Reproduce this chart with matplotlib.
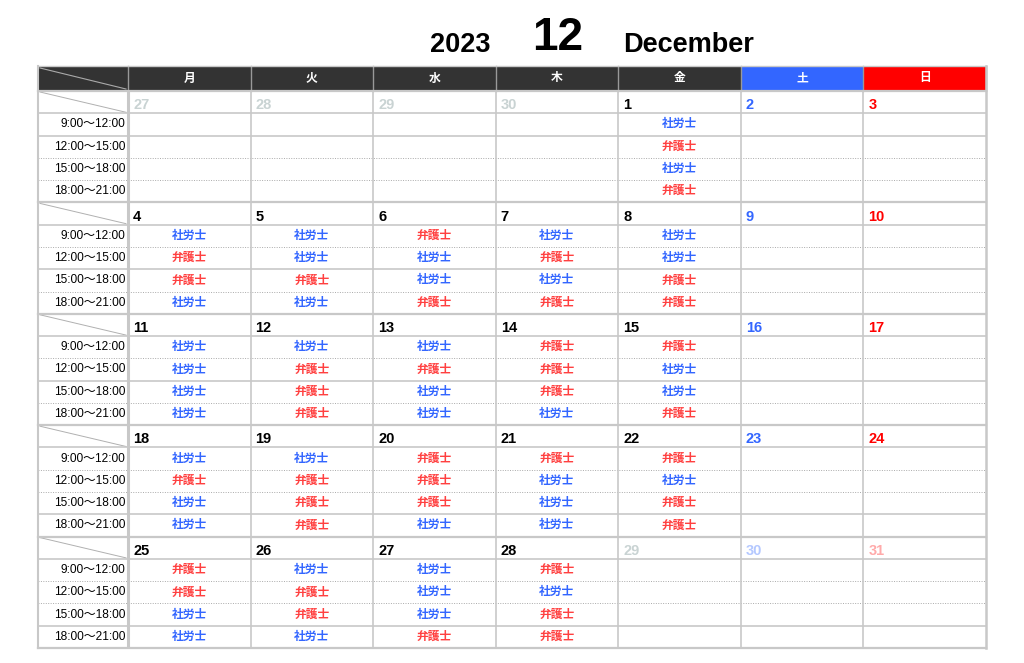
import matplotlib.pyplot as plt
import numpy as np

plt.rcParams["font.family"] = ["Liberation Sans", "Noto Sans CJK JP", "DejaVu Sans"]

year = "2023"
month_num = "12"
month_name = "December"
weekdays = ["月", "火", "水", "木", "金", "土", "日"]
time_slots = ["9:00〜12:00", "12:00〜15:00", "15:00〜18:00", "18:00〜21:00"]

weeks = [
    [27, 28, 29, 30, 1, 2, 3],
    [4, 5, 6, 7, 8, 9, 10],
    [11, 12, 13, 14, 15, 16, 17],
    [18, 19, 20, 21, 22, 23, 24],
    [25, 26, 27, 28, 29, 30, 31],
]
# True where the date belongs to December
in_month = [
    [False, False, False, False, True, True, True],
    [True] * 7,
    [True] * 7,
    [True] * 7,
    [True, True, True, True, False, False, False],
]
# S = 社労士, B = 弁護士 for each of the four time slots
schedule = {
    1: "SBSB",
    4: "SBBS", 5: "SSBS", 6: "BSSB", 7: "SBSB", 8: "SSBB",
    11: "SSSS", 12: "SBBB", 13: "SBSS", 14: "BBBS", 15: "BSSB",
    18: "SBSS", 19: "SBBB", 20: "BBBS", 21: "BSSS", 22: "BSBB",
    25: "BBSS", 26: "SBBS", 27: "SSSB", 28: "BSBB",
}
role_name = {"S": "社労士", "B": "弁護士"}
role_color = {"S": "#3366ff", "B": "#ff4040"}

# line style under slot rows 1..3 of each week block (as rendered)
inner_styles = [
    ["-", ":", ":"],
    [":", "-", ":"],
    [":", "-", ":"],
    [":", ":", "-"],
    [":", ":", "-"],
]

# layout in pixels
W, H = 1024, 663
left, label_right, right = 38, 128, 986
head_top, head_bot, bottom = 66, 91, 648
col_x = np.linspace(label_right, right, 8)
n_rows = len(weeks) * 5
row_y = np.linspace(head_bot, bottom, n_rows + 1)

head_colors = ["#333333"] * 5 + ["#3366ff", "#ff0000"]
date_colors = ["#000000"] * 5 + ["#3366ff", "#ff0000"]
faded_colors = ["#c9d3d3"] * 5 + ["#b4c8ff", "#ffaaaa"]
grid_c = "#c8c8c8"

fig = plt.figure(figsize=(W / 100, H / 100), dpi=100)
ax = fig.add_axes([0, 0, 1, 1])
ax.set_xlim(0, W)
ax.set_ylim(H, 0)
ax.axis("off")

# title
ax.text(460, 52, year, ha="center", va="baseline", fontsize=19.5, fontweight="bold")
ax.text(558, 50, month_num, ha="center", va="baseline", fontsize=33, fontweight="bold")
ax.text(623, 52, month_name, ha="left", va="baseline", fontsize=19.5, fontweight="bold")

# header row
ax.add_patch(plt.Rectangle((left, head_top), label_right - left, head_bot - head_top,
                           facecolor="#333333", edgecolor="none"))
ax.plot([left + 2, label_right - 2], [head_top + 2, head_bot - 2], color="#aaaaaa", lw=0.8)
for i, (name, fc) in enumerate(zip(weekdays, head_colors)):
    x0, x1 = col_x[i], col_x[i + 1]
    ax.add_patch(plt.Rectangle((x0, head_top), x1 - x0, head_bot - head_top,
                               facecolor=fc, edgecolor="none"))
    ax.text((x0 + x1) / 2, (head_top + head_bot) / 2, name, ha="center", va="center",
            color="white", fontsize=8.5, fontweight="bold")
for x in col_x:
    ax.plot([x, x], [head_top, head_bot], color="#999999", lw=1)
ax.plot([left, right], [head_top, head_top], color=grid_c, lw=1)

# body
for w, week in enumerate(weeks):
    r0 = w * 5
    y_top, y_date = row_y[r0], row_y[r0 + 1]
    # diagonal in the label cell of the date row
    ax.plot([left + 2, label_right - 2], [y_top + 1, y_date - 1], color="#b0b0b0", lw=0.7)
    # horizontal lines
    ax.plot([left, right], [y_top, y_top], color=grid_c, lw=1.6)
    ax.plot([left, right], [y_date, y_date], color=grid_c, lw=1.2)
    for k, ls in enumerate(inner_styles[w]):
        y = row_y[r0 + 2 + k]
        if ls == "-":
            ax.plot([left, right], [y, y], color=grid_c, lw=1.2)
        else:
            ax.plot([left, right], [y, y], color="#aaaaaa", lw=0.7, ls=(0, (1, 1.5)))
    # time slot labels
    for k, slot in enumerate(time_slots):
        yc = (row_y[r0 + 1 + k] + row_y[r0 + 2 + k]) / 2
        ax.text(label_right - 3, yc, slot, ha="right", va="center", fontsize=8.6)
    # dates and assignments
    for d, day in enumerate(week):
        x0, x1 = col_x[d], col_x[d + 1]
        color = date_colors[d] if in_month[w][d] else faded_colors[d]
        ax.text(x0 + 5, y_date - 4, str(day), ha="left", va="baseline",
                fontsize=10.5, fontweight="bold", color=color)
        if in_month[w][d] and day in schedule:
            for k, code in enumerate(schedule[day]):
                yc = (row_y[r0 + 1 + k] + row_y[r0 + 2 + k]) / 2
                ax.text((x0 + x1) / 2, yc, role_name[code], ha="center", va="center",
                        fontsize=8.5, fontweight="bold", color=role_color[code])

ax.plot([left, right], [bottom, bottom], color=grid_c, lw=1.6)

# vertical lines
ax.plot([left, left], [head_top, bottom], color=grid_c, lw=1.5)
ax.plot([label_right, label_right], [head_bot, bottom], color=grid_c, lw=2.2,
        solid_capstyle="butt")
for x in col_x[1:-1]:
    ax.plot([x, x], [head_bot, bottom], color=grid_c, lw=1.2)
ax.plot([right, right], [head_top, bottom], color=grid_c, lw=1.8)

fig.savefig("out.png", dpi=100)
